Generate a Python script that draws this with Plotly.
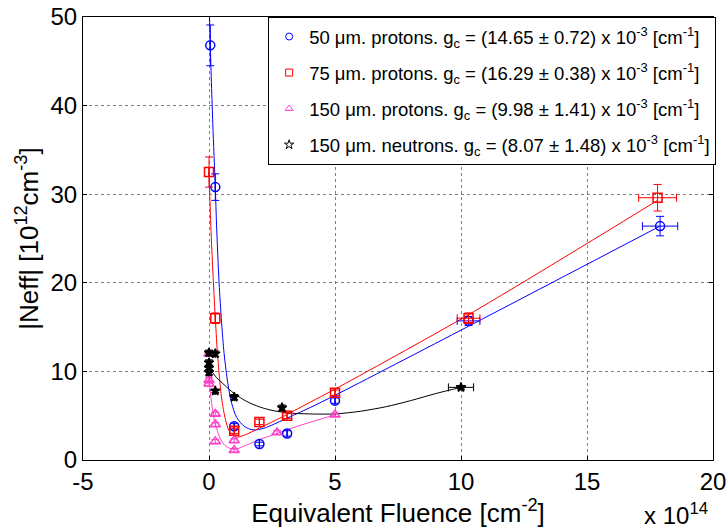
import plotly.graph_objects as go

# ---------------- data (fluence in 1e14 cm^-2, |Neff| in 1e12 cm^-3) -------------
# 50 um protons
p50_x = [0.05, 0.25, 1.0, 2.0, 3.1, 5.0, 10.3, 17.9]
p50_y = [46.8, 30.8, 3.8, 1.8, 3.0, 6.7, 15.7, 26.4]
p50_ey = [2.3, 1.5, 0.3, 0.2, 0.3, 0.3, 0.5, 1.1]
p50_ex = [0, 0, 0, 0, 0, 0, 0.45, 0.7]
# 75 um protons
p75_x = [0.0, 0.25, 1.0, 2.0, 3.1, 5.0, 10.3, 17.8]
p75_y = [32.5, 16.0, 3.3, 4.3, 5.0, 7.6, 16.0, 29.6]
p75_ey = [1.7, 0.6, 0.3, 0.3, 0.3, 0.3, 0.6, 1.5]
p75_ex = [0, 0, 0, 0, 0, 0, 0.45, 0.75]
# 150 um protons
p150_x = [0.0, 0.0, 0.0, 0.25, 0.25, 0.25, 1.0, 1.0, 2.7, 5.0]
p150_y = [12.0, 9.0, 8.6, 5.2, 4.0, 2.1, 2.2, 1.1, 3.1, 5.1]
p150_ey = [0.3, 0.3, 0.3, 0.2, 0.2, 0.2, 0.2, 0.2, 0.2, 0.2]
# 150 um neutrons
n150_x = [0.0, 0.25, 0.0, 0.0, 0.0, 0.25, 1.0, 2.9, 10.0]
n150_y = [12.1, 12.0, 11.0, 10.4, 9.9, 7.8, 7.1, 5.9, 8.2]
n150_ey = [0.3, 0.3, 0.3, 0.3, 0.3, 0.2, 0.3, 0.3, 0.2]
n150_ex = [0, 0, 0, 0, 0, 0, 0, 0, 0.5]

# fitted curves
fit50_x = [0.02, 0.05, 0.15, 0.25, 0.3, 0.4, 0.5, 0.6, 0.75, 0.9, 1.1, 1.4, 1.75, 2.2, 3.0, 4.0, 5.0, 10.3, 17.9]
fit50_y = [50.0, 46.8, 38.0, 30.8, 26.5, 20.0, 15.5, 12.0, 8.6, 6.4, 4.8, 3.8, 3.4, 3.6, 4.6, 5.9, 7.3, 15.1, 26.4]
fit75_x = [0.0, 0.1, 0.25, 0.35, 0.5, 0.65, 0.8, 1.07, 1.4, 2.0, 3.0, 4.0, 5.0, 10.3, 17.8]
fit75_y = [32.5, 24.5, 16.0, 11.5, 7.0, 4.6, 3.3, 2.6, 2.8, 3.6, 5.0, 6.5, 8.0, 16.4, 29.3]
fitp150_x = [0.0, 0.1, 0.2, 0.3, 0.45, 0.65, 0.9, 1.1, 1.5, 2.0, 2.7, 3.5, 5.0]
fitp150_y = [9.3, 6.5, 4.7, 3.6, 2.4, 1.6, 1.25, 1.25, 1.7, 2.3, 3.0, 3.8, 5.1]
fitn150_x = [0.0, 0.3, 0.6, 1.0, 1.5, 2.0, 2.5, 3.2, 4.0, 5.0, 6.0, 7.0, 8.0, 9.0, 10.0]
fitn150_y = [10.4, 9.3, 8.5, 7.5, 6.6, 6.0, 5.6, 5.3, 5.2, 5.2, 5.5, 6.0, 6.7, 7.5, 8.2]

names = [
    "50 μm. protons. g<sub>c</sub> = (14.65 ± 0.72) x 10<sup>-3</sup> [cm<sup>-1</sup>]",
    "75 μm. protons. g<sub>c</sub> = (16.29 ± 0.38) x 10<sup>-3</sup> [cm<sup>-1</sup>]",
    "150 μm. protons. g<sub>c</sub> = (9.98 ± 1.41) x 10<sup>-3</sup> [cm<sup>-1</sup>]",
    "150 μm. neutrons. g<sub>c</sub> = (8.07 ± 1.48) x 10<sup>-3</sup> [cm<sup>-1</sup>]",
]

x_ticks = [-5, 0, 5, 10, 15, 20]
x_ticktext = ["-5", "0", "5", "10", "15", "20"]
y_ticks = [0, 10, 20, 30, 40, 50]

BLUE = "#0000FF"
RED = "#FF0000"
MAG = "#FF40C8"
BLK = "#000000"

FONT = "Arial, Liberation Sans, sans-serif"

fig = go.Figure()

# fit curves
for fx, fy, col in [(fit50_x, fit50_y, BLUE), (fit75_x, fit75_y, RED),
                    (fitp150_x, fitp150_y, MAG), (fitn150_x, fitn150_y, BLK)]:
    fig.add_trace(go.Scatter(x=fx, y=fy, mode="lines", line=dict(color=col, width=1, shape="spline", smoothing=0.8),
                             showlegend=False, hoverinfo="skip"))

def err(arr, col):
    return dict(type="data", array=arr, visible=True, color=col, thickness=1, width=4)

series = [
    (p50_x, p50_y, p50_ey, p50_ex, BLUE, "circle-open", 9),
    (p75_x, p75_y, p75_ey, p75_ex, RED, "square-open", 9),
    (p150_x, p150_y, p150_ey, None, MAG, "triangle-up-open", 9),
    (n150_x, n150_y, n150_ey, n150_ex, BLK, "star", 7),
]
leg_sym = ["circle-open", "square-open", "triangle-up-open", "star-open"]

for i, (sx, sy, sey, sex, col, sym, sz) in enumerate(series):
    kw = dict(error_y=err(sey, col))
    if sex is not None:
        kw["error_x"] = err(sex, col)
    fig.add_trace(go.Scatter(x=sx, y=sy, mode="markers", showlegend=False,
                             marker=dict(symbol=sym, size=sz, color=col, line=dict(width=1.5, color=col)),
                             **kw))

# legend entries (small markers as in the reference legend)
for i, (sx, sy, sey, sex, col, sym, sz) in enumerate(series):
    fig.add_trace(go.Scatter(x=[None], y=[None], mode="markers", name=names[i], legendgroup=str(i),
                             marker=dict(symbol=leg_sym[i], size=7, color=col, line=dict(width=1, color=col))))

axis_common = dict(showline=True, linecolor="black", linewidth=1, mirror="ticks",
                   ticks="inside", ticklen=4, tickcolor="black",
                   showgrid=True, gridcolor="#7f7f7f", griddash="dot", gridwidth=1,
                   zeroline=False, automargin=False,
                   tickfont=dict(family=FONT, size=24, color="black"))

fig.update_xaxes(range=[-5, 20], tickvals=x_ticks, ticktext=x_ticktext,
                 title=dict(text="Equivalent Fluence [cm<sup>-2</sup>]", font=dict(family=FONT, size=26, color="black"),
                            standoff=2),
                 **axis_common)
fig.update_yaxes(range=[0, 50], tickvals=y_ticks,
                 title=dict(text="|Neff| [10<sup>12</sup>cm<sup>-3</sup>]", font=dict(family=FONT, size=26, color="black"),
                            standoff=4),
                 **axis_common)

fig.add_annotation(text="x 10<sup>14</sup>", xref="paper", yref="paper", x=0.996, y=-0.121,
                   xanchor="right", yanchor="middle", showarrow=False,
                   font=dict(family=FONT, size=24, color="black"))

fig.update_layout(
    width=728, height=529,
    margin=dict(l=83, r=15, t=17, b=69, autoexpand=False),
    paper_bgcolor="white", plot_bgcolor="white",
    font=dict(family=FONT, color="black"),
    legend=dict(x=1.005, xanchor="right", y=1.0, yanchor="top",
                bgcolor="white", bordercolor="black", borderwidth=1,
                font=dict(family=FONT, size=18.5, color="black"),
                tracegroupgap=9, itemsizing="trace"),
)

fig.write_html("out.html", config={"displayModeBar": False},
               post_script="document.body.style.margin='0';document.body.style.padding='0';document.body.style.overflow='hidden';")
